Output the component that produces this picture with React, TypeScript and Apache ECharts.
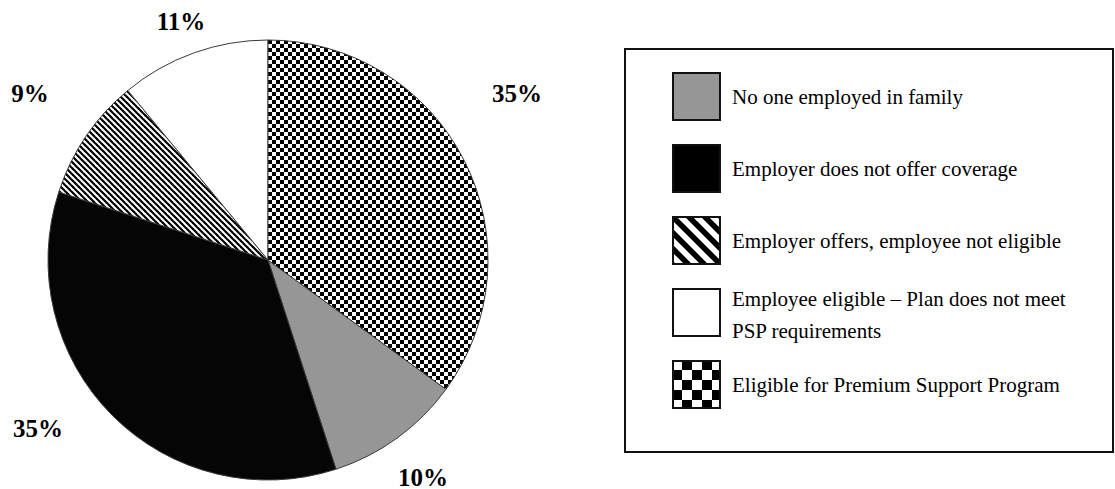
import React, { useEffect, useRef } from "react";
import * as echarts from "echarts";

// ---- data ----
const CATEGORIES = [
  "No one employed in family",
  "Employer does not offer coverage",
  "Employer offers, employee not eligible",
  "Employee eligible – Plan does not meet\nPSP requirements",
  "Eligible for Premium Support Program",
];
const SHARES = [10, 35, 9, 11, 35];

// ---- layout (not data) ----
const LABEL_POS: [number, number][] = [
  [423, 477],
  [38, 428],
  [30, 93],
  [181, 21],
  [517, 93],
];
const PIE_CENTER = [268, 260];
const PIE_RADIUS = 220;

type Draw = (ctx: CanvasRenderingContext2D, w: number, h: number) => void;
function makeCanvas(w: number, h: number, draw: Draw) {
  const c = document.createElement("canvas");
  c.width = w;
  c.height = h;
  const ctx = c.getContext("2d") as CanvasRenderingContext2D;
  draw(ctx, w, h);
  return c;
}
const drawChecker = (cell: number): Draw => (ctx, w, h) => {
  ctx.fillStyle = "#ffffff";
  ctx.fillRect(0, 0, w, h);
  ctx.fillStyle = "#000000";
  for (let r = 0; r * cell < h; r++) {
    for (let c = 0; c * cell < w; c++) {
      if ((r + c) % 2 === 1) ctx.fillRect(c * cell, r * cell, cell, cell);
    }
  }
};
const drawStripes = (period: number, lw: number): Draw => (ctx, w, h) => {
  ctx.fillStyle = "#ffffff";
  ctx.fillRect(0, 0, w, h);
  ctx.strokeStyle = "#000000";
  ctx.lineWidth = lw;
  const n = Math.ceil((w + h) / period) + 2;
  for (let k = -n; k <= n; k++) {
    const o = k * period;
    ctx.beginPath();
    ctx.moveTo(o - h, -h);
    ctx.lineTo(o + 2 * h, 2 * h);
    ctx.stroke();
  }
};
const drawSolid = (color: string): Draw => (ctx, w, h) => {
  ctx.fillStyle = color;
  ctx.fillRect(0, 0, w, h);
};

function pattern(draw: Draw, size: number) {
  const c = makeCanvas(size, size, draw);
  return {
    image: c.toDataURL(),
    repeat: "repeat",
    imageWidth: size,
    imageHeight: size,
  };
}

function swatch(draw: Draw, size: number) {
  return makeCanvas(size, size, (ctx, w, h) => {
    draw(ctx, w, h);
    ctx.strokeStyle = "#111111";
    ctx.lineWidth = 2;
    ctx.strokeRect(1, 1, w - 2, h - 2);
  }).toDataURL();
}

export default function App() {
  const ref = useRef<HTMLDivElement>(null);
  useEffect(() => {
    if (!ref.current) return;
    const chart = echarts.init(ref.current, null, { renderer: "svg" });

    const sliceFills: any[] = [
      "#969696",
      "#050505",
      pattern(drawStripes(6, 2.2), 6),
      "#ffffff",
      pattern(drawChecker(4), 8),
    ];
    const swatchDraws: Draw[] = [
      drawSolid("#969696"),
      drawSolid("#000000"),
      drawStripes(16, 5.5),
      drawSolid("#ffffff"),
      drawChecker(10),
    ];

    const legendGraphics: any[] = [
      {
        type: "rect",
        shape: { x: 625, y: 49, width: 488, height: 403 },
        style: { fill: "none", stroke: "#111111", lineWidth: 2 },
        silent: true,
      },
    ];
    CATEGORIES.forEach((name, i) => {
      const top = 72 + i * 72;
      legendGraphics.push({
        type: "image",
        style: {
          image: swatch(swatchDraws[i], 49),
          x: 672,
          y: top,
          width: 49,
          height: 49,
        },
        silent: true,
      });
      legendGraphics.push({
        type: "text",
        x: 732,
        y: top + 24.5 + (name.includes("\n") ? 2 : 0),
        style: {
          text: name,
          font: '21px "Liberation Serif"',
          fill: "#000000",
          verticalAlign: "middle",
          align: "left",
          lineHeight: 32,
        },
        silent: true,
      });
    });

    chart.setOption({
      animation: false,
      backgroundColor: "#ffffff",
      graphic: legendGraphics,
      series: [
        {
          type: "pie",
          silent: true,
          center: PIE_CENTER,
          radius: PIE_RADIUS,
          startAngle: 90 - 0.35 * 360,
          clockwise: true,
          avoidLabelOverlap: false,
          itemStyle: { borderColor: "#3a3a3a", borderWidth: 1 },
          label: {
            show: true,
            position: "outside",
            formatter: (p: any) => `${p.value}%`,
            fontFamily: '"Liberation Serif"',
            fontWeight: "bold",
            fontSize: 25,
            color: "#000000",
          },
          labelLine: { show: false },
          labelLayout: (p: any) => ({
            x: LABEL_POS[p.dataIndex][0],
            y: LABEL_POS[p.dataIndex][1],
            align: "center",
            verticalAlign: "middle",
          }),
          data: CATEGORIES.map((name, i) => ({
            name,
            value: SHARES[i],
            itemStyle: { color: sliceFills[i] },
          })),
        },
      ],
    });
    return () => chart.dispose();
  }, []);
  return (
    <div
      ref={ref}
      style={{ position: "fixed", left: 0, top: 0, width: 1115, height: 489 }}
    />
  );
}
